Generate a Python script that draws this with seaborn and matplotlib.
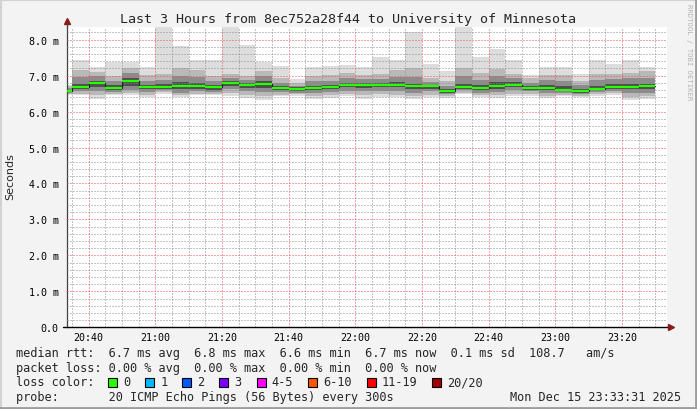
import numpy as np
import pandas as pd
import seaborn as sns
import matplotlib.pyplot as plt
from matplotlib.patches import Rectangle
from matplotlib.lines import Line2D

# 5 minute bins (start time) and the ping distribution of each bin, in ms
bin_start = ["20:30", "20:35", "20:40", "20:45", "20:50", "20:55",
             "21:00", "21:05", "21:10", "21:15", "21:20", "21:25",
             "21:30", "21:35", "21:40", "21:45", "21:50", "21:55",
             "22:00", "22:05", "22:10", "22:15", "22:20", "22:25",
             "22:30", "22:35", "22:40", "22:45", "22:50", "22:55",
             "23:00", "23:05", "23:10", "23:15", "23:20", "23:25"]

ping_max = [6.75, 7.44, 7.25, 7.39, 7.39, 7.23, 8.60, 7.81, 7.42, 7.42, 8.45, 7.86,
            7.39, 7.26, 6.91, 7.25, 7.28, 7.30, 7.25, 7.53, 7.42, 8.20, 7.32, 7.14,
            8.60, 7.51, 7.74, 7.44, 7.02, 7.25, 7.25, 7.05, 7.44, 7.32, 7.42, 7.25]
ping_p90 = [6.70, 7.15, 7.10, 7.00, 7.20, 7.02, 7.05, 7.20, 7.15, 7.00, 7.05, 7.00,
            7.12, 6.92, 6.80, 7.00, 7.02, 7.08, 7.02, 7.05, 7.15, 7.20, 6.92, 6.85,
            7.22, 7.08, 7.18, 7.05, 6.92, 7.02, 7.02, 6.85, 7.05, 7.05, 7.08, 7.12]
ping_p75 = [6.65, 6.95, 6.98, 6.85, 7.07, 6.85, 6.88, 7.00, 6.95, 6.85, 6.92, 6.88,
            6.98, 6.80, 6.72, 6.85, 6.86, 6.92, 6.90, 6.90, 6.95, 6.95, 6.82, 6.72,
            6.98, 6.88, 6.98, 6.92, 6.80, 6.88, 6.85, 6.74, 6.88, 6.90, 6.92, 6.92]
ping_p60 = [6.61, 6.78, 6.86, 6.73, 6.92, 6.75, 6.76, 6.82, 6.80, 6.74, 6.84, 6.79,
            6.85, 6.71, 6.67, 6.72, 6.75, 6.80, 6.80, 6.80, 6.82, 6.78, 6.75, 6.62,
            6.78, 6.74, 6.82, 6.82, 6.72, 6.74, 6.70, 6.63, 6.72, 6.76, 6.77, 6.78]
median = [6.58, 6.69, 6.80, 6.66, 6.85, 6.69, 6.69, 6.72, 6.70, 6.67, 6.80, 6.74,
          6.77, 6.66, 6.63, 6.66, 6.69, 6.74, 6.75, 6.74, 6.74, 6.71, 6.71, 6.56,
          6.68, 6.66, 6.71, 6.74, 6.65, 6.66, 6.60, 6.57, 6.63, 6.68, 6.68, 6.72]
ping_p40 = [6.56, 6.62, 6.68, 6.60, 6.70, 6.62, 6.64, 6.62, 6.63, 6.61, 6.72, 6.66,
            6.65, 6.60, 6.58, 6.60, 6.62, 6.67, 6.66, 6.68, 6.67, 6.62, 6.64, 6.52,
            6.64, 6.60, 6.63, 6.68, 6.61, 6.60, 6.56, 6.53, 6.59, 6.64, 6.62, 6.63]
ping_p25 = [6.53, 6.56, 6.58, 6.55, 6.60, 6.55, 6.60, 6.52, 6.56, 6.55, 6.63, 6.57,
            6.55, 6.54, 6.53, 6.52, 6.55, 6.58, 6.56, 6.58, 6.57, 6.52, 6.56, 6.48,
            6.59, 6.53, 6.54, 6.60, 6.56, 6.52, 6.51, 6.49, 6.54, 6.58, 6.52, 6.53]
ping_p10 = [6.50, 6.50, 6.45, 6.50, 6.52, 6.47, 6.55, 6.45, 6.50, 6.49, 6.52, 6.47,
            6.42, 6.47, 6.48, 6.43, 6.45, 6.48, 6.45, 6.48, 6.47, 6.42, 6.47, 6.43,
            6.53, 6.45, 6.45, 6.50, 6.50, 6.44, 6.46, 6.44, 6.48, 6.52, 6.40, 6.42]
ping_min = [6.45, 6.47, 6.36, 6.47, 6.47, 6.40, 6.50, 6.40, 6.45, 6.45, 6.44, 6.38,
            6.32, 6.42, 6.44, 6.35, 6.38, 6.42, 6.35, 6.40, 6.40, 6.35, 6.40, 6.38,
            6.49, 6.40, 6.38, 6.44, 6.44, 6.37, 6.42, 6.40, 6.44, 6.47, 6.32, 6.34]

x_tick_labels = ["20:40", "21:00", "21:20", "21:40", "22:00", "22:20", "22:40", "23:00", "23:20"]
y_ticks = [0, 1, 2, 3, 4, 5, 6, 7, 8]
y_tick_labels = ["0.0", "1.0 m", "2.0 m", "3.0 m", "4.0 m", "5.0 m", "6.0 m", "7.0 m", "8.0 m"]

loss_labels = ["0", "1", "2", "3", "4-5", "6-10", "11-19", "20/20"]
loss_colors = ["#26ff00", "#00b8ff", "#0059ff", "#7e00ff", "#ff00ff", "#ff5500", "#ff0000", "#a10000"]

title = "Last 3 Hours from 8ec752a28f44 to University of Minnesota"
legend_rtt = "median rtt:  6.7 ms avg  6.8 ms max  6.6 ms min  6.7 ms now  0.1 ms sd  108.7   am/s"
legend_loss = "packet loss: 0.00 % avg  0.00 % max  0.00 % min  0.00 % now"
legend_probe = "probe:       20 ICMP Echo Pings (56 Bytes) every 300s"
stamp = "Mon Dec 15 23:33:31 2025"


def minutes(hhmm):
    h, m = hhmm.split(":")
    return int(h) * 60 + int(m)


starts = [minutes(t) for t in bin_start]
step = 5
view_start = minutes("20:33") + 31 / 60
view_end = view_start + 180

sns.set_style("white")
plt.rcParams["font.family"] = ["DejaVu Sans Mono"]

W, H = 697, 410
fig = plt.figure(figsize=(W / 100, H / 100), dpi=100)
fig.patch.set_facecolor("#f3f3f3")
ax = fig.add_axes([67 / W, 1 - 328.3 / H, 600 / W, 300.6 / H])
ax.set_facecolor("white")

# smoke: nested bands, lighter towards the extremes
layers = [(ping_min, ping_max, "#dddddd"),
          (ping_p10, ping_p90, "#b9b9b9"),
          (ping_p25, ping_p75, "#8c8c8c"),
          (ping_p40, ping_p60, "#4e4e4e")]
for lo, hi, col in layers:
    ax.bar(starts, [h - l for l, h in zip(lo, hi)], bottom=lo, width=step,
           align="edge", color=col, linewidth=0, zorder=1)

# median: thin dark step line plus green bars (loss 0)
med_df = pd.DataFrame({"t": starts + [starts[-1] + step], "rtt": median + [median[-1]]})
sns.lineplot(data=med_df, x="t", y="rtt", drawstyle="steps-post", color="#202020",
             linewidth=0.8, estimator=None, ax=ax, zorder=3)
ax.hlines(median, starts, [s + step for s in starts], color=loss_colors[0],
          linewidth=1.6, zorder=4)

ax.set_xlim(view_start, view_end)
ax.set_ylim(0, 8.36)
ax.set_xlabel("")
ax.set_ylabel("")
ax.set_xticks([minutes(t) for t in x_tick_labels])
ax.set_xticklabels(x_tick_labels)
ax.set_xticks(np.arange(minutes("20:35"), view_end, 5), minor=True)
ax.set_yticks(y_ticks)
ax.set_yticklabels(y_tick_labels)
ax.set_yticks(np.arange(0, 8.36, 0.2), minor=True)

ax.set_axisbelow(False)
ax.grid(which="minor", color=(0.55, 0.55, 0.55, 0.22), linestyle=(0, (1, 2)), linewidth=0.72)
ax.grid(which="major", color=(0.95, 0.3, 0.3, 0.38), linestyle=(0, (1, 2)), linewidth=0.72)

ax.tick_params(axis="y", which="major", length=3, width=0.72, color=(0.9, 0.45, 0.45),
               pad=3, labelsize=7.2, labelcolor="black")
ax.tick_params(axis="y", which="minor", length=2, width=0.72, color="#c8c8c8")
ax.tick_params(axis="x", which="both", length=0, pad=3.5, labelsize=7.2, labelcolor="black")

for s in ["top", "right", "bottom"]:
    ax.spines[s].set_visible(False)
ax.spines["left"].set_color("#404040")
ax.spines["left"].set_linewidth(0.9)

# axis lines with arrow heads
ax.plot([-0.007, 1.004], [0, 0], transform=ax.transAxes, color="black", lw=1.0,
        clip_on=False, zorder=5)
ax.plot([0, 0], [1, 1.015], transform=ax.transAxes, color="#404040", lw=0.9,
        clip_on=False, zorder=5)
ax.plot([1.007], [0], transform=ax.transAxes, marker=">", markersize=4.5,
        color="#8b1a1a", clip_on=False, zorder=6)
ax.plot([0], [1.02], transform=ax.transAxes, marker="^", markersize=4.5,
        color="#8b1a1a", clip_on=False, zorder=6)

fig.text(348 / W, 1 - 19 / H, title, fontsize=9.6, ha="center", va="center")
fig.text(10 / W, 1 - 177 / H, "Seconds", fontsize=8, rotation=90, ha="center",
         va="center", family="DejaVu Sans")
fig.text(689 / W, 1 - 4 / H, "RRDTOOL / TOBI OETIKER", fontsize=5.2, rotation=270,
         ha="center", va="top", color="#b4b4b4")

fs = 8.55
fig.text(16 / W, 1 - 353.5 / H, legend_rtt, fontsize=fs, va="center")
fig.text(16 / W, 1 - 368.5 / H, legend_loss, fontsize=fs, va="center")
fig.text(16 / W, 1 - 383 / H, "loss color:", fontsize=fs, va="center")
fig.text(16 / W, 1 - 398 / H, legend_probe, fontsize=fs, va="center")
fig.text(681 / W, 1 - 398 / H, stamp, fontsize=fs, va="center", ha="right")

bx = 108
for lab, col in zip(loss_labels, loss_colors):
    fig.add_artist(Rectangle((bx / W, 1 - 387.5 / H), 9 / W, 9 / H, transform=fig.transFigure,
                             facecolor=col, edgecolor="black", linewidth=0.8))
    fig.text((bx + 15) / W, 1 - 383 / H, lab, fontsize=fs, va="center")
    bx += 30 + 7.15 * len(lab)

# 3d frame around the image
fig.add_artist(Line2D([0, 1], [1 - 1 / H, 1 - 1 / H], transform=fig.transFigure, color="#d2d2d2", lw=1.5))
fig.add_artist(Line2D([1 / W, 1 / W], [0, 1], transform=fig.transFigure, color="#d2d2d2", lw=1.5))
fig.add_artist(Line2D([0, 1], [1.5 / H, 1.5 / H], transform=fig.transFigure, color="#9c9c9c", lw=2))
fig.add_artist(Line2D([1 - 1.5 / W, 1 - 1.5 / W], [0, 1], transform=fig.transFigure, color="#9c9c9c", lw=2))

fig.savefig("out.png", dpi=100, facecolor=fig.get_facecolor())
